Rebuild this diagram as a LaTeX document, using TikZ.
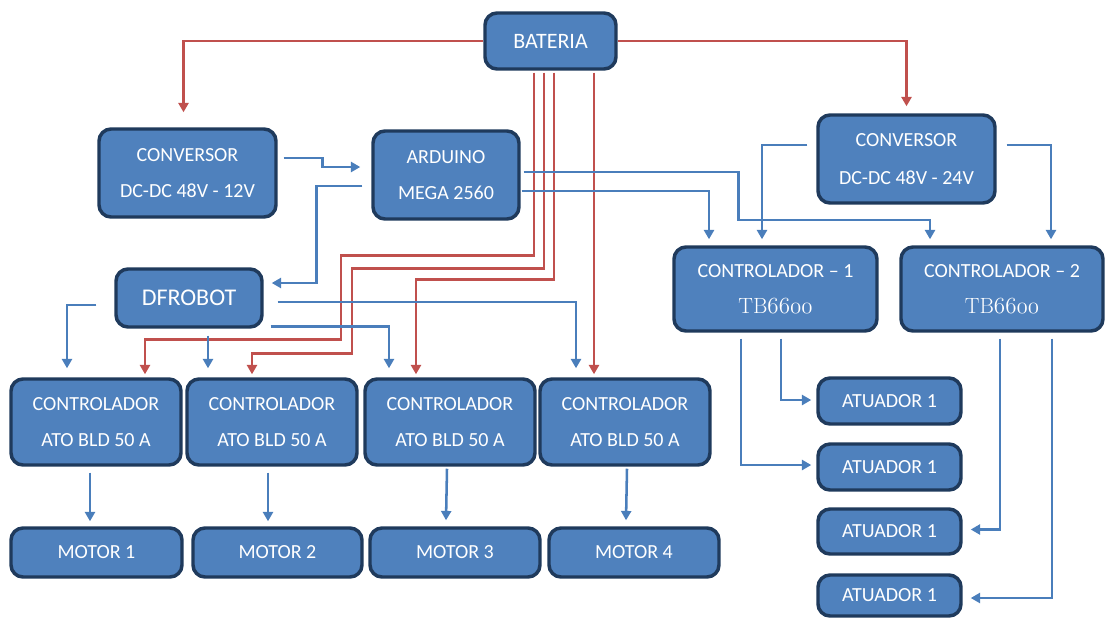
\documentclass[tikz,border=0pt]{standalone}
\usepackage{fontspec}
\newfontfamily\calfont{Carlito}
\usetikzlibrary{calc,arrows.meta}
\definecolor{boxfill}{HTML}{4F81BD}
\definecolor{boxline}{HTML}{1F3A5C}
\definecolor{redl}{HTML}{C0504D}
\definecolor{bluel}{HTML}{4A7EBB}
\tikzset{
  box/.style={draw=boxline, line width=2.6pt, fill=boxfill, rounded corners=9pt,
    inner sep=0pt, text=white, align=center, font=\calfont\fontsize{15}{27}\selectfont},
  sz/.style 2 args={minimum width=#1*0.75pt, minimum height=#2*0.75pt},
  rarr/.style={draw=redl, line width=1.9pt, -{Triangle[length=7pt,width=7.5pt]}},
  barr/.style={draw=bluel, line width=1.9pt, -{Triangle[length=7pt,width=7.5pt]}},
}
\newcommand{\tbtext}{{\normalfont\fontsize{16.5}{27}\selectfont TB$\mathnormal{6600}$}}
\begin{document}
\begin{tikzpicture}[x=0.75pt,y=-0.75pt]
\useasboundingbox (0,0) rectangle (1106,619);

% boxes
\node[box, sz={131}{56}, font=\calfont\fontsize{16.5}{20}\selectfont] (bat) at (550.5,41) {BATERIA};
\node[box, sz={177}{88}] (convL) at (187.5,173) {CONVERSOR\\DC-DC 48V - 12V};
\node[box, sz={146}{88}] (ard) at (446,175) {ARDUINO\\MEGA 2560};
\node[box, sz={177}{88}, font=\calfont\fontsize{15}{29}\selectfont] (convR) at (906.5,159) {CONVERSOR\\DC-DC 48V - 24V};
\node[box, sz={146}{58}, font=\calfont\fontsize{18}{22}\selectfont] (dfr) at (189,298) {DFROBOT};
\node[box, sz={203}{84}] (c1) at (775.5,289) {CONTROLADOR – 1\\\tbtext};
\node[box, sz={202}{84}] (c2) at (1002,289) {CONTROLADOR – 2\\\tbtext};

\node[box, sz={170}{86}] (ato1) at (96,422) {CONTROLADOR\\ATO BLD 50 A};
\node[box, sz={170}{86}] (ato2) at (272,422) {CONTROLADOR\\ATO BLD 50 A};
\node[box, sz={170}{86}] (ato3) at (450,422) {CONTROLADOR\\ATO BLD 50 A};
\node[box, sz={170}{86}] (ato4) at (625,422) {CONTROLADOR\\ATO BLD 50 A};

\node[box, sz={171}{49}] (mot1) at (96.5,552.5) {MOTOR 1};
\node[box, sz={169}{49}] (mot2) at (277.5,552.5) {MOTOR 2};
\node[box, sz={170}{49}] (mot3) at (455,552.5) {MOTOR 3};
\node[box, sz={170}{49}] (mot4) at (634,552.5) {MOTOR 4};

\node[box, sz={143}{46}] (atu1) at (889.5,401) {ATUADOR 1};
\node[box, sz={143}{46}] (atu2) at (889.5,467) {ATUADOR 1};
\node[box, sz={143}{45}] (atu3) at (889.5,531.5) {ATUADOR 1};
\node[box, sz={143}{41}] (atu4) at (889.5,595.5) {ATUADOR 1};

% red power lines
\draw[rarr] (bat.west) -| ($(convL.north)+(-4,-15)$);
\draw[rarr] (bat.east) -| ($(convR.north)+(0,-7)$);
\draw[rarr] ($(bat.south)+(-16.5,2)$) -- ++(0,183) -| ++(-193,84) -| ($(ato1.north)+(49,-3)$);
\draw[rarr] ($(bat.south)+(-6.5,2)$) -- ++(0,196) -| ++(-192,85) -| ($(ato2.north)+(-20,-3)$);
\draw[rarr] ($(bat.south)+(3.5,2)$) -- ++(0,207) -| ($(ato3.north)+(-34,-3)$);
\draw[rarr] ($(bat.south)+(43.5,2)$) -- ($(ato4.north)+(-31,-3)$);

% blue signal lines
\draw[barr] ($(convL.east)+(6,-15)$) -- ++(39,0) |- ($(ard.west)+(-11,-8)$);
\draw[barr] ($(ard.west)+(-9,11)$) -- ++(-46,0) |- ($(dfr.east)+(8,-15)$);
\draw[barr] ($(ard.east)+(3,-3)$) -- ++(215,0) -- ++(0,48) -| ($(c2.north)+(-72,-6)$);
\draw[barr] ($(ard.east)+(1,16)$) -| ($(c1.north)+(-66.5,-6)$);
\draw[barr] ($(convR.west)+(-9,-14)$) -| ($(c1.north)+(-13.5,-6)$);
\draw[barr] ($(convR.east)+(10,-14)$) -| ($(c2.north)+(49,-6)$);

\draw[barr] ($(dfr.west)+(-18,7)$) -| ($(ato1.north)+(-29,-9)$);
\draw[barr] ($(dfr.south)+(19,7)$) -- ($(ato2.north)+(-64,-9)$);
\draw[barr] ($(dfr.east)+(14,4)$) -| ($(ato4.north)+(-49,-9)$);
\draw[barr] ($(dfr.south east)+(7,-2)$) -| ($(ato3.north)+(-61,-9)$);

\draw[barr] ($(ato1.south)+(-6,6)$) -- ($(mot1.north)+(-6.5,-5)$);
\draw[barr] ($(ato2.south)+(-4,6)$) -- ($(mot2.north)+(-9.5,-5)$);
\draw[barr] ($(ato3.south)+(-3,2)$) -- ($(mot3.north)+(-9,-6)$);
\draw[barr] ($(ato4.south)+(2,2)$) -- ($(mot4.north)+(-8,-6)$);

\draw[barr] ($(c1.south)+(5.5,6)$) |- ($(atu1.west)+(-5,-1)$);
\draw[barr] ($(c1.south)+(-34.5,6)$) |- ($(atu2.west)+(-5,-2)$);
\draw[barr] ($(c2.south)+(-2,6)$) |- ($(atu3.east)+(8,-2)$);
\draw[barr] ($(c2.south)+(50,6)$) |- ($(atu4.east)+(8,2.5)$);
\end{tikzpicture}
\end{document}
